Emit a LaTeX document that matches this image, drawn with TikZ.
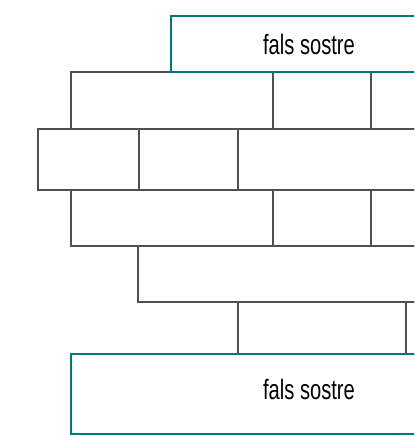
\documentclass[tikz,border=0pt]{standalone}
\usepackage{fontspec}
\setmainfont{Liberation Sans}[FakeStretch=0.72]
\definecolor{wall}{RGB}{80,80,80}
\definecolor{tealc}{RGB}{0,122,118}
\tikzset{
  brick/.style={draw=wall, line width=1.1pt},
  ceiling/.style={draw=tealc, line width=2.2pt, fill=white},
  lbl/.style={font=\fontsize{28}{30}\selectfont, text=black, inner sep=0pt}
}
\begin{document}
\begin{tikzpicture}[x=1pt,y=-1pt]
\useasboundingbox (0,0) rectangle (414,435);
\clip (0,0) rectangle (414,435);
% row 1
\draw[brick] (71,72) rectangle (273,129);
\draw[brick] (273,72) rectangle (371,129);
\draw[brick] (371,72) rectangle (430,129);
% row 2
\draw[brick] (38,129) rectangle (139,190);
\draw[brick] (139,129) rectangle (238,190);
\draw[brick] (238,129) rectangle (430,190);
% row 3
\draw[brick] (71,190) rectangle (273,246);
\draw[brick] (273,190) rectangle (371,246);
\draw[brick] (371,190) rectangle (430,246);
% row 4
\draw[brick] (138,246) rectangle (430,302);
% row 5
\draw[brick] (238,302) rectangle (406,354);
\draw[brick] (406,302) rectangle (430,354);
% ceilings
\draw[ceiling] (171,16) rectangle (430,72);
\node[lbl] (top) at (309,44.5) {fals sostre};
\draw[ceiling] (71,354) rectangle (430,434);
\node[lbl] (bot) at (309,389) {fals sostre};
\end{tikzpicture}
\end{document}
